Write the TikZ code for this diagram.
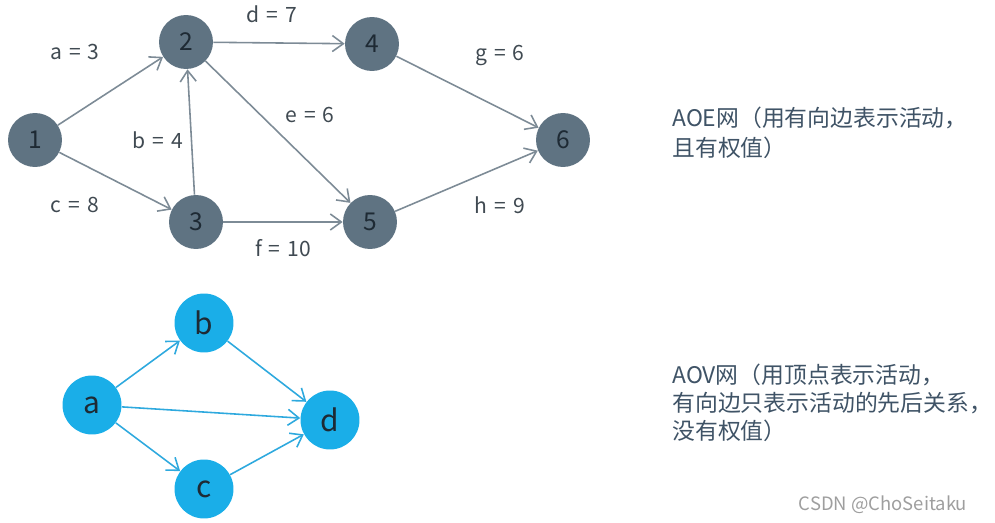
\documentclass[tikz,border=0pt]{standalone}
\usepackage{fontspec}
\setmainfont{Noto Sans CJK SC}
\usetikzlibrary{arrows.meta}
\definecolor{aoe-node}{HTML}{5F7382}
\definecolor{aoe-edge}{HTML}{7D8B96}
\definecolor{aov-node}{HTML}{1AAEE8}
\definecolor{aov-edge}{HTML}{2EA9DE}
\definecolor{note-text}{HTML}{3F5366}
\definecolor{dark-text}{HTML}{1E2A34}
\newcommand{\eqw}[2]{#1\hspace{0.33em}=\hspace{0.33em}#2}
\tikzset{
  aoenode/.style={circle, fill=aoe-node, minimum size=1.08cm, inner sep=0pt,
    font=\fontsize{14}{16}\selectfont, text=dark-text},
  aovnode/.style={circle, fill=aov-node, minimum size=1.18cm, inner sep=0pt,
    font=\fontsize{17}{19}\selectfont, text=dark-text},
  aoeedge/.style={-{Straight Barb[length=2.2mm, width=3.2mm]}, line width=0.9pt, color=aoe-edge},
  aovedge/.style={-{Straight Barb[length=2.2mm, width=3.2mm]}, line width=0.9pt, color=aov-edge},
  weight/.style={font=\fontsize{12}{14}\selectfont, text=dark-text!85},
  note/.style={anchor=west, font=\fontsize{13}{16}\selectfont, text=note-text, inner sep=0pt}
}
\begin{document}
\begin{tikzpicture}[x=0.02cm, y=-0.02cm]
    \useasboundingbox (0,0) rectangle (995,523);
    % AOE network
    \node[aoenode] (n1) at (35,140) {1};
    \node[aoenode] (n2) at (186,42) {2};
    \node[aoenode] (n3) at (196,222) {3};
    \node[aoenode] (n4) at (372,44) {4};
    \node[aoenode] (n5) at (370,222) {5};
    \node[aoenode] (n6) at (563,140) {6};
    \draw[aoeedge] (n1) -- (n2);
    \draw[aoeedge] (n1) -- (n3);
    \draw[aoeedge] (n3) -- (n2);
    \draw[aoeedge] (n2) -- (n4);
    \draw[aoeedge] (n2) -- (n5);
    \draw[aoeedge] (n3) -- (n5);
    \draw[aoeedge] (n4) -- (n6);
    \draw[aoeedge] (n5) -- (n6);
    \node[weight] (wa) at (75,52) {\eqw{a}{3}};
    \node[weight] (wd) at (272,14) {\eqw{d}{7}};
    \node[weight] (wg) at (500,55) {\eqw{g}{6}};
    \node[weight] (wb) at (158,140) {\eqw{b}{4}};
    \node[weight] (we) at (310,115) {\eqw{e}{6}};
    \node[weight] (wc) at (75,205) {\eqw{c}{8}};
    \node[weight] (wf) at (283,248) {\eqw{f}{10}};
    \node[weight] (wh) at (500,205) {\eqw{h}{9}};
    % AOV network
    \node[aovnode] (va) at (92,405) {a};
    \node[aovnode] (vb) at (204,323) {b};
    \node[aovnode] (vc) at (204,489) {c};
    \node[aovnode] (vd) at (330,420) {d};
    \draw[aovedge] (va) -- (vb);
    \draw[aovedge] (va) -- (vc);
    \draw[aovedge] (va) -- (vd);
    \draw[aovedge] (vb) -- (vd);
    \draw[aovedge] (vc) -- (vd);
    % notes
    \node[note] (aoe1) at (672,118) {AOE网（用有向边表示活动，};
    \node[note] (aoe2) at (672,148) {且有权值）};
    \node[note] (aov1) at (672,375) {AOV网（用顶点表示活动，};
    \node[note] (aov2) at (672,403) {有向边只表示活动的先后关系，};
    \node[note] (aov3) at (672,431) {没有权值）};
    \node[font=\fontsize{10.5}{12}\selectfont, text=black!38] (mark) at (883,505) {CSDN @ChoSeitaku};
\end{tikzpicture}
\end{document}
